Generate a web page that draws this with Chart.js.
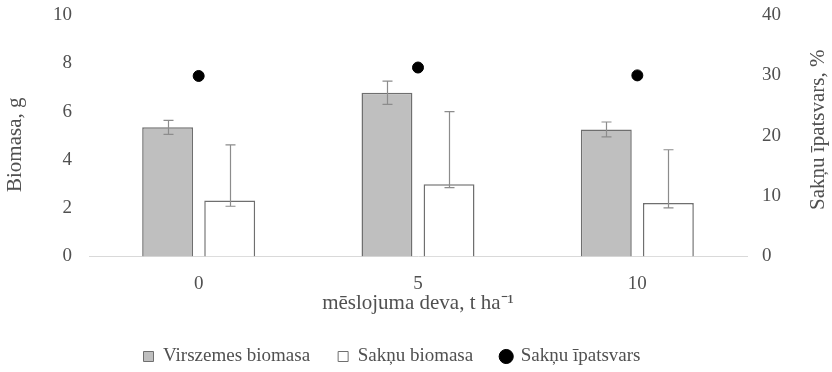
<!DOCTYPE html>
<html>
<head>
<meta charset="utf-8">
<script src="https://cdn.jsdelivr.net/npm/chart.js@4/dist/chart.umd.min.js"></script>
<style>
  html, body { margin: 0; padding: 0; background: #fff; }
  #wrap { width: 832px; height: 372px; }
</style>
</head>
<body>
<div id="wrap"><canvas id="c" width="832" height="372"></canvas></div>
<script>
// Fertiliser dose, t/ha
const categories = ['0', '5', '10'];
// Above-ground biomass, g, with symmetric error
const abovegroundBiomass = [5.35, 6.78, 5.26];
const abovegroundError = [0.29, 0.48, 0.31];
// Root biomass, g, with upper / lower error
const rootBiomass = [2.32, 2.99, 2.22];
const rootErrorUp = [2.30, 3.01, 2.20];
const rootErrorDown = [0.24, 0.14, 0.21];
// Root share, %
const rootShare = [29.9, 31.3, 30.0];

const serif = '"Liberation Serif", "Times New Roman", serif';
const textColor = '#505050';
const fontSize = 19;
const titleSize = 21;
const leftTitle = 'Biomasa, g';
const rightTitle = 'Sakņu īpatsvars, %';

const errorBars = {
  id: 'errorBars',
  afterDatasetsDraw(chart) {
    const ctx = chart.ctx;
    const y = chart.scales.y;
    const sets = [
      { idx: 0, vals: abovegroundBiomass, up: abovegroundError, down: abovegroundError },
      { idx: 1, vals: rootBiomass, up: rootErrorUp, down: rootErrorDown }
    ];
    ctx.save();
    ctx.strokeStyle = '#8c8c8c';
    ctx.lineWidth = 1.2;
    sets.forEach(s => {
      const meta = chart.getDatasetMeta(s.idx);
      meta.data.forEach((bar, i) => {
        const x = Math.round(bar.x) + 0.5;
        const top = y.getPixelForValue(s.vals[i] + s.up[i]);
        const bot = y.getPixelForValue(s.vals[i] - s.down[i]);
        const cap = 5;
        ctx.beginPath();
        ctx.moveTo(x, top); ctx.lineTo(x, bot);
        ctx.moveTo(x - cap, top); ctx.lineTo(x + cap, top);
        ctx.moveTo(x - cap, bot); ctx.lineTo(x + cap, bot);
        ctx.stroke();
      });
    });
    ctx.restore();
  }
};

// Vertical axis titles, both reading bottom-to-top
const axisTitles = {
  id: 'axisTitles',
  afterDraw(chart) {
    const ctx = chart.ctx;
    const area = chart.chartArea;
    const mid = (area.top + area.bottom) / 2;
    const draw = (text, x, y) => {
      ctx.save();
      ctx.translate(x, y);
      ctx.rotate(-Math.PI / 2);
      ctx.font = titleSize + 'px ' + serif;
      ctx.fillStyle = textColor;
      ctx.textAlign = 'center';
      ctx.textBaseline = 'middle';
      ctx.fillText(text, 0, 0);
      ctx.restore();
    };
    draw(leftTitle, 15, mid + 9);
    draw(rightTitle, 818, mid - 6);
  }
};

new Chart(document.getElementById('c'), {
  data: {
    labels: categories,
    datasets: [
      {
        type: 'bar',
        label: 'Virszemes biomasa',
        data: abovegroundBiomass,
        backgroundColor: '#bfbfbf',
        borderColor: '#6f6f6f',
        borderWidth: 1.5,
        yAxisID: 'y',
        categoryPercentage: 0.566,
        barPercentage: 0.82,
        order: 2
      },
      {
        type: 'bar',
        label: 'Sakņu biomasa',
        data: rootBiomass,
        backgroundColor: '#ffffff',
        borderColor: '#6f6f6f',
        borderWidth: 1.5,
        yAxisID: 'y',
        categoryPercentage: 0.566,
        barPercentage: 0.82,
        order: 2
      },
      {
        type: 'line',
        label: 'Sakņu īpatsvars',
        data: rootShare,
        showLine: false,
        pointStyle: 'circle',
        pointRadius: 5.5,
        pointBackgroundColor: '#000000',
        pointBorderColor: '#000000',
        borderColor: '#000000',
        backgroundColor: '#000000',
        yAxisID: 'y1',
        order: 1
      }
    ]
  },
  options: {
    responsive: false,
    animation: false,
    layout: { padding: { top: 15, bottom: -4, left: 0, right: 48 } },
    plugins: {
      tooltip: { enabled: false },
      legend: {
        position: 'bottom',
        labels: {
          font: { family: serif, size: fontSize },
          color: textColor,
          boxWidth: 10,
          boxHeight: 10,
          padding: 28,
          usePointStyle: true,
          generateLabels() {
            return [
              { text: 'Virszemes biomasa', fillStyle: '#bfbfbf', strokeStyle: '#6f6f6f', lineWidth: 1, pointStyle: 'rect', fontColor: textColor, datasetIndex: 0 },
              { text: 'Sakņu biomasa', fillStyle: '#ffffff', strokeStyle: '#6f6f6f', lineWidth: 1, pointStyle: 'rect', fontColor: textColor, datasetIndex: 1 },
              { text: 'Sakņu īpatsvars', fillStyle: '#000000', strokeStyle: '#000000', lineWidth: 1, pointStyle: 'circle', fontColor: textColor, datasetIndex: 2 }
            ];
          }
        }
      }
    },
    scales: {
      x: {
        grid: { display: false },
        border: { display: true, color: '#d9d9d9', width: 1 },
        ticks: { font: { family: serif, size: fontSize }, color: textColor, padding: 8 },
        title: {
          display: true,
          text: 'mēslojuma deva, t ha⁻¹',
          font: { family: serif, size: titleSize },
          color: textColor,
          padding: { top: 0, bottom: 3 }
        },
        afterFit(scale) { scale.height = 62.5; }
      },
      y: {
        position: 'left',
        min: 0, max: 10,
        ticks: { stepSize: 2, font: { family: serif, size: fontSize }, color: textColor, padding: 9 },
        grid: { display: false },
        border: { display: false },
        title: { display: false },
        afterFit(scale) { scale.width = 89; scale.paddingTop = 0; scale.paddingBottom = 0; }
      },
      y1: {
        position: 'right',
        min: 0, max: 40,
        ticks: { stepSize: 10, font: { family: serif, size: fontSize }, color: textColor, padding: 7 },
        grid: { display: false },
        border: { display: false },
        title: { display: false },
        afterFit(scale) { scale.width = 37; scale.paddingTop = 0; scale.paddingBottom = 0; }
      }
    }
  },
  plugins: [errorBars, axisTitles]
});
</script>
</body>
</html>
